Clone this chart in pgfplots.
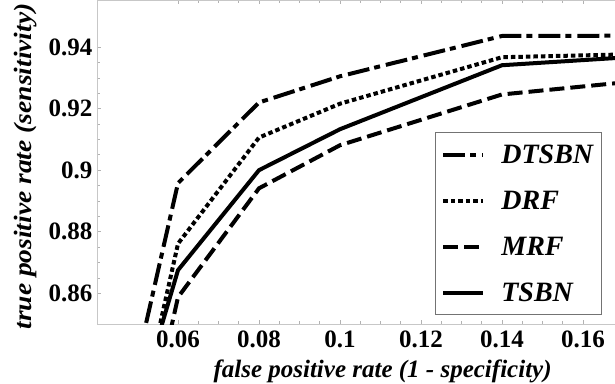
\documentclass[border=0pt]{standalone}
\usepackage{fontspec}
\setmainfont{Liberation Serif}
\usepackage{graphicx}
\usepackage{pgfplots}
\pgfplotsset{compat=1.18}
\begin{document}
\begin{tikzpicture}
\begin{axis}[
  name=ax,
  scale only axis,
  width=524pt, height=324pt,
  xmin=0.04, xmax=0.16938, ymin=0.85, ymax=0.9553,
  xtick={0.06,0.08,0.1,0.12,0.14,0.16},
  ytick={0.86,0.88,0.9,0.92,0.94},
  minor x tick num=3, minor y tick num=3,
  tick align=inside,
  major tick length=4pt, minor tick length=3pt,
  axis line style={draw=black!22, line width=0.8pt},
  every tick/.style={draw=black!30, line width=0.6pt},
  /pgf/number format/assume math mode=true,
  /pgf/number format/fixed, /pgf/number format/precision=2,
  tick label style={font=\bfseries\fontsize{25}{25}\selectfont},
  yticklabel style={xshift=-1pt},
  xticklabel style={yshift=-3pt},
  xlabel={false positive rate (1 - specificity)},
  ylabel={\scalebox{1.1}[1]{true positive rate (sensitivity)}},
  label style={font=\bfseries\itshape\fontsize{25}{25}\selectfont},
  xlabel style={at={(axis description cs:0.545,-0.146)}, anchor=center},
  ylabel style={at={(axis description cs:-0.1355,0.486)}, anchor=center, rotate=0},
  clip=true,
  legend cell align=left,
  legend style={at={(axis description cs:0.645,0.0278)}, anchor=south west,
    draw=black!55, line width=0.8pt, inner xsep=6pt, inner ysep=10pt,
    font=\bfseries\itshape\fontsize{28}{28}\selectfont,
    row sep=22pt,
    /tikz/every odd column/.append style={column sep=14pt}},
  legend image code/.code={\draw[#1] (0pt,0pt) -- (40pt,0pt);},
]
\addplot[black, line width=4pt, dash pattern=on 22pt off 5pt on 6pt off 6pt]
  coordinates {(0.05,0.838) (0.06,0.8958) (0.08,0.922) (0.1,0.9305) (0.14,0.9436) (0.17,0.9437)};
\addlegendentry{DTSBN}
\addplot[black, line width=4pt, dash pattern=on 4.5pt off 3pt]
  coordinates {(0.05,0.817) (0.06,0.8761) (0.08,0.9106) (0.1,0.9216) (0.14,0.9367) (0.17,0.9376)};
\addlegendentry{DRF}
\addplot[black, line width=4pt, dash pattern=on 15pt off 6pt]
  coordinates {(0.05,0.80) (0.06,0.8587) (0.08,0.8941) (0.1,0.9081) (0.14,0.9246) (0.17,0.9285)};
\addlegendentry{MRF}
\addplot[black, line width=4pt]
  coordinates {(0.05,0.823) (0.06,0.8675) (0.08,0.900) (0.1,0.9133) (0.14,0.9341) (0.17,0.9366)};
\addlegendentry{TSBN}
\end{axis}
\pgfresetboundingbox
\path[use as bounding box] ([shift={(-97pt,-59pt)}]ax.south west) rectangle ([shift={(518pt,324pt)}]ax.south west);
\end{tikzpicture}
\end{document}
